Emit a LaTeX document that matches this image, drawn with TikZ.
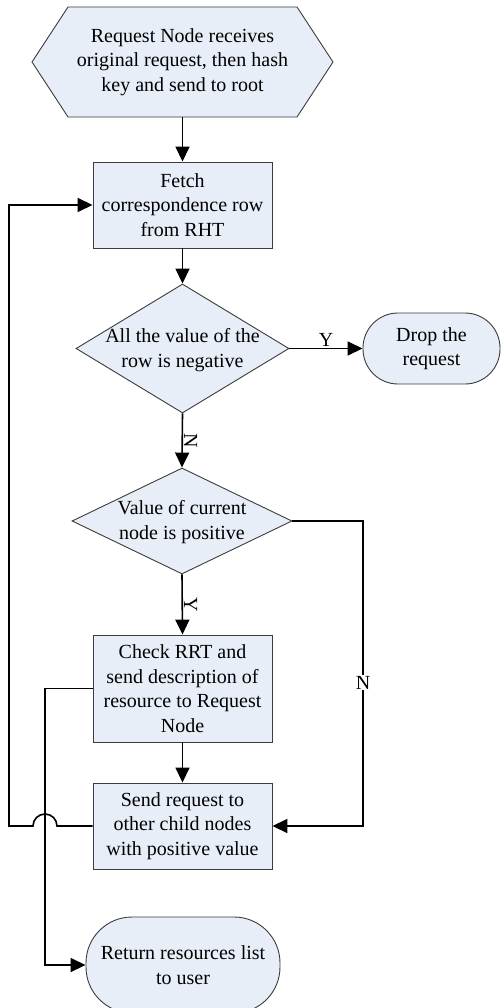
\documentclass[tikz,border=0pt]{standalone}
\usepackage{fontspec}
\setmainfont{Liberation Serif}
\usetikzlibrary{shapes.geometric,arrows.meta}
\definecolor{boxfill}{RGB}{232,238,247}
\definecolor{boxline}{RGB}{60,60,60}
\begin{document}
\begin{tikzpicture}[x=1pt,y=-1pt,
  shapebox/.style={draw=boxline,fill=boxfill,line width=0.9pt,inner sep=0pt,align=center,
    font=\fontsize{20}{24.5}\selectfont},
  procbox/.style={shapebox,rectangle,minimum width=179pt},
  dia/.style={shapebox,diamond},
  term/.style={shapebox,rectangle},
  txt/.style={inner sep=0pt,align=center,font=\fontsize{20}{24.5}\selectfont},
  conn/.style={line width=1.6pt,-{Triangle[length=15pt,width=14pt]}},
  plain/.style={line width=1.6pt},
  lab/.style={inner sep=1pt,font=\fontsize{20}{24}\selectfont}]
\fill[white] (0,0) rectangle (502,1008);
\useasboundingbox (0,0) rectangle (502,1008);
% hexagon
\draw[draw=boxline,fill=boxfill,line width=0.9pt] (32,62) -- (68,7) -- (297,7) -- (333,62) -- (297,117) -- (68,117) -- cycle;
\node[txt,minimum width=301pt,minimum height=110pt] (hex) at (182.5,62) {Request Node receives\\original request, then hash\\key and send to root};
% fetch
\node[procbox,minimum height=86pt] (fetch) at (182.5,205) {Fetch\\correspondence row\\from RHT};
% diamond 1
\node[dia,minimum width=213pt,minimum height=129pt] (d1) at (182.5,348.5) {};
\node[txt] (d1t) at (182.5,350) {All the value of the\\row is negative};
% drop
\node[term,rounded corners=35pt,minimum width=137pt,minimum height=71pt] (drop) at (431.5,348.5) {Drop the\\request};
% diamond 2
\node[dia,minimum width=220pt,minimum height=106pt] (d2) at (182,521) {};
\node[txt] (d2t) at (182,522) {Value of current\\node is positive};
% check
\node[procbox,minimum height=107pt] (check) at (182.5,688.5) {Check RRT and\\send description of\\resource to Request\\Node};
% send
\node[procbox,minimum height=86pt] (send) at (182.5,826) {Send request to\\other child nodes\\with positive value};
% return
\node[term,rounded corners=46pt,minimum width=194pt,minimum height=96pt] (ret) at (183,965) {Return resources list\\to user};
% coordinates
\coordinate (nr) at (363,521);
\coordinate (nb) at (363,826);
\coordinate (jr) at (57,826);
\coordinate (lb) at (9,826);
\coordinate (lt) at (9,205);
\coordinate (ct) at (45,688.5);
\coordinate (cb) at (45,965);
% connectors
\draw[conn] (hex.south) -- (fetch.north);
\draw[conn] (fetch.south) -- (d1.north);
\draw[conn] (d1.east) -- node[lab,above,pos=0.5] (ly1) {Y} (drop.west);
\draw[conn] (d1.south) -- node[lab,right,rotate=-90,anchor=south,pos=0.5] (ln1) {N} (d2.north);
\draw[conn] (d2.south) -- node[lab,rotate=-90,anchor=south,pos=0.5] (ly2) {Y} (check.north);
\draw[conn] (d2.east) -- (nr) -- node[lab,fill=white,pos=0.53] (ln2) {N} (nb) -- (send.east);
\draw[conn] (check.south) -- (send.north);
\draw[conn] (send.west) -- (jr) arc[start angle=0,end angle=180,radius=12pt] -- (lb) -- (lt) -- (fetch.west);
\draw[conn] (check.west) -- (ct) -- (cb) -- (ret.west);
\end{tikzpicture}
\end{document}
